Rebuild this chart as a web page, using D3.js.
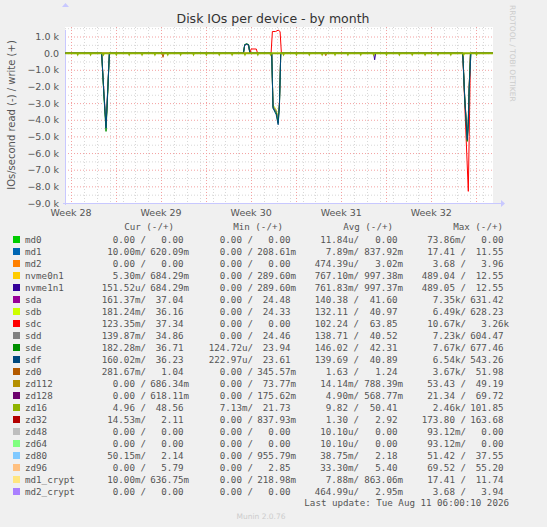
<!DOCTYPE html>
<html><head><meta charset="utf-8">
<script src="https://cdn.jsdelivr.net/npm/d3@7"></script>
<style>body{margin:0;background:#f0f0f0}svg{display:block}</style>
</head><body>
<script>
// devices, colours and legend figures (cur/min/avg/max as read / write)
var devices = ["md0","md1","md2","nvme0n1","nvme1n1","sda","sdb","sdc","sdd","sde","sdf","zd0","zd112","zd128","zd16","zd32","zd48","zd64","zd80","zd96","md1_crypt","md2_crypt"];
var colors = ["#00cc00","#0066b3","#ff8000","#ffcc00","#330099","#990099","#ccff00","#ff0000","#808080","#008f00","#00487d","#b35a00","#b38f00","#6b006b","#8fb300","#b30000","#bebebe","#80ff80","#80c9ff","#ffc080","#ffe680","#aa80ff"];
var curVals = [["0.00","0.00"],["10.00m","620.09m"],["0.00","0.00"],["5.30m","684.29m"],["151.52u","684.29m"],["161.37m","37.04"],["181.24m","36.16"],["123.35m","37.34"],["139.87m","34.86"],["182.28m","36.71"],["160.02m","36.23"],["281.67m","1.04"],["0.00","686.34m"],["0.00","618.11m"],["4.96","48.56"],["14.53m","2.11"],["0.00","0.00"],["0.00","0.00"],["50.15m","2.14"],["0.00","5.79"],["10.00m","636.75m"],["0.00","0.00"]];
var minVals = [["0.00","0.00"],["0.00","208.61m"],["0.00","0.00"],["0.00","289.60m"],["0.00","289.60m"],["0.00","24.48"],["0.00","24.33"],["0.00","0.00"],["0.00","24.46"],["124.72u","23.94"],["222.97u","23.61"],["0.00","345.57m"],["0.00","73.77m"],["0.00","175.62m"],["7.13m","21.73"],["0.00","837.93m"],["0.00","0.00"],["0.00","0.00"],["0.00","955.79m"],["0.00","2.85"],["0.00","218.98m"],["0.00","0.00"]];
var avgVals = [["11.84u","0.00"],["7.89m","837.92m"],["474.39u","3.02m"],["767.10m","997.38m"],["761.83m","997.37m"],["140.38","41.60"],["132.11","40.97"],["102.24","63.85"],["138.71","40.52"],["146.02","42.31"],["139.69","40.89"],["1.63","1.24"],["14.14m","788.39m"],["4.90m","568.77m"],["9.82","50.41"],["1.30","2.92"],["10.10u","0.00"],["10.10u","0.00"],["38.75m","2.18"],["33.30m","5.40"],["7.88m","863.06m"],["464.99u","2.95m"]];
var maxVals = [["73.86m","0.00"],["17.41","11.55"],["3.68","3.96"],["489.04","12.55"],["489.05","12.55"],["7.35k","631.42"],["6.49k","628.23"],["10.67k","3.26k"],["7.23k","604.47"],["7.67k","677.46"],["6.54k","543.26"],["3.67k","51.98"],["53.43","49.19"],["21.34","69.72"],["2.46k","101.85"],["173.80","163.68"],["93.12m","0.00"],["93.12m","0.00"],["51.42","37.55"],["69.52","55.20"],["17.41","11.74"],["3.68","3.94"]];

// plotted series: days since start of week 28, IOs/s (reads negative)
var days = [-0.45, 2.38, 2.55, 2.72, 2.85, 2.98, 13.4, 13.5, 13.65, 13.8, 13.9, 15.6, 15.7, 15.95, 16.1, 16.2, 16.3, 30.45, 30.6, 30.8, 30.88, 30.95, 31.05, 31.1, 32.8];
var sdaVals = [0, 0, -2300, -4300, -2200, 0, 0, 480, 520, 480, 0, 0, -3200, -3500, -4000, -3000, 0, 0, -2600, -5100, -4000, -2000, 0, 0, 0];
var sdbVals = [0, 0, -2400, -4400, -2300, 0, 0, 500, 540, 500, 0, 0, -3100, -3400, -3900, -3000, 0, 0, -2600, -5000, -4000, -2000, 0, 0, 0];
var sddVals = [0, 0, -2300, -4400, -2200, 0, 0, 480, 530, 480, 0, 0, -3200, -3500, -4000, -3000, 0, 0, -2600, -5100, -4100, -2000, 0, 0, 0];
var sdeVals = [0, 0, -2500, -4700, -2400, 0, 0, 520, 560, 520, 0, 0, -3300, -3600, -4200, -3100, 0, 0, -2700, -5300, -4200, -2000, 0, 0, 0];
var sdfVals = [0, 0, -2400, -4500, -2300, 0, 0, 500, 550, 500, 0, 0, -3300, -3700, -4300, -3200, 0, 0, -2700, -5200, -4300, -2100, -500, 0, 0];
var sdcDays = [-0.45, 13.9, 14.0, 14.4, 14.5, 15.55, 15.65, 15.9, 16.1, 16.25, 16.35, 30.45, 30.6, 30.88, 30.95, 31.05, 32.8];
var sdcVals = [0, 0, 250, 250, 0, 0, 1300, 1300, 1380, 1300, 0, 0, -3000, -8300, -5000, 0, 0];
var zd16Days = [0.52, 1.52, 2.52, 3.52, 4.52, 5.52, 6.52, 7.52, 8.52, 9.52, 10.52, 11.52, 12.52, 13.52, 14.52, 15.52, 16.52, 17.52, 18.52, 19.52, 20.52, 21.52, 22.52, 23.52, 24.52, 25.52, 26.52, 27.52, 28.52, 29.52, 30.52, 31.52];
var smallDays = [7.15, 19.8, 23.6];
var smallVals = [-250, -150, -400];
var smallDev = ["zd0", "zd0", "nvme1n1"];
var yTicks = [1000, 0, -1000, -2000, -3000, -4000, -5000, -6000, -7000, -8000, -9000];
var weekLabels = ["Week 28", "Week 29", "Week 30", "Week 31", "Week 32"];

var W = 547, H = 527;
var left = 65, right = 493, top0 = 27, bottom = 203;
var svg = d3.select("body").append("svg").attr("width", W).attr("height", H);
var col = function (n) { return colors[devices.indexOf(n)]; };

var x = d3.scaleLinear().domain([-0.47, 32.8]).range([left, right]);
var y = d3.scaleLinear().domain([-9000, 1000]).range([bottom, 36.5]);

svg.append("rect").attr("x", left).attr("y", top0).attr("width", right - left).attr("height", bottom - top0).attr("fill", "#fff");

// minor grid
var minorY = d3.range(-9000, 1600, 500);
svg.selectAll(".gy").data(minorY).enter().append("line")
    .attr("x1", left).attr("x2", right).attr("y1", function (d) { return y(d) + 0.5; }).attr("y2", function (d) { return y(d) + 0.5; })
    .attr("stroke", function (d) { return d % 1000 == 0 ? "#f4a0a0" : "#d8d8d8"; })
    .attr("stroke-dasharray", "1,2");
var minorX = d3.range(0, 33, 1);
svg.selectAll(".gx").data(minorX).enter().append("line")
    .attr("x1", function (d) { return Math.round(x(d)) + 0.5; }).attr("x2", function (d) { return Math.round(x(d)) + 0.5; })
    .attr("y1", top0).attr("y2", bottom)
    .attr("stroke", "#d8d8d8").attr("stroke-dasharray", "1,2");
var majorX = d3.range(0, 33, 3.5);
svg.selectAll(".mx").data(majorX).enter().append("line")
    .attr("x1", function (d) { return Math.round(x(d)) + 0.5; }).attr("x2", function (d) { return Math.round(x(d)) + 0.5; })
    .attr("y1", top0).attr("y2", bottom)
    .attr("stroke", "#f4a0a0").attr("stroke-dasharray", "1,2");

// axes
svg.append("line").attr("x1", left - 2).attr("x2", right + 8).attr("y1", bottom + 0.5).attr("y2", bottom + 0.5).attr("stroke", "#c8c8ff");
svg.append("line").attr("x1", left + 0.5).attr("x2", left + 0.5).attr("y1", bottom + 2).attr("y2", top0 - 22 + 25).attr("stroke", "#c8c8ff");
svg.append("path").attr("d", "M" + (right + 8) + "," + (bottom - 3) + "l4,3.5l-4,3.5z").attr("fill", "#c8c8ff");
svg.append("path").attr("d", "M" + (left - 3) + "," + (top0 - 20) + "l3.5,-4l3.5,4z").attr("fill", "#c8c8ff");

var tf = "DejaVu Sans, sans-serif";
svg.selectAll(".yt").data(yTicks).enter().append("text")
    .attr("x", 59).attr("y", function (d) { return y(d) + 3.5; }).attr("text-anchor", "end")
    .attr("font-family", tf).attr("font-size", 9.5).attr("fill", "#555")
    .text(function (d) { return d3.format(".1f")(d / 1000).replace("-0.0", "0.0") + (d == 0 ? "" : " k"); });
svg.selectAll(".xt").data(weekLabels).enter().append("text")
    .attr("x", function (d, i) { return x(i * 7); }).attr("y", 216).attr("text-anchor", "middle")
    .attr("font-family", tf).attr("font-size", 9.5).attr("fill", "#555").text(function (d) { return d; });

svg.append("text").attr("x", 273).attr("y", 23).attr("text-anchor", "middle")
    .attr("font-family", tf).attr("font-size", 12.5).attr("fill", "#333").text("Disk IOs per device - by month");
svg.append("text").attr("transform", "translate(15,115) rotate(-90)").attr("text-anchor", "middle")
    .attr("font-family", tf).attr("font-size", 10).attr("fill", "#555").text("IOs/second read (-) / write (+)");
svg.append("text").attr("transform", "translate(510,5) rotate(90)").attr("text-anchor", "start")
    .attr("font-family", tf).attr("font-size", 7.5).attr("fill", "#ccc").text("RRDTOOL / TOBI OETIKER");

// series
var line = d3.line().x(function (d) { return x(d[0]); }).y(function (d) { return y(d[1]); });
var g = svg.append("g");
function draw(ds, vs, name, w) {
    g.append("path").datum(ds.map(function (d, i) { return [d, vs[i]]; }))
        .attr("d", line).attr("fill", "none").attr("stroke", col(name)).attr("stroke-width", w || 1);
}
draw(days, sdbVals, "sdb");
draw(sdcDays, sdcVals, "sdc");
draw(days, sdaVals, "sda");
draw(days, sddVals, "sdd");
draw(days, sdeVals, "sde");
draw(days, sdfVals, "sdf");
smallDays.forEach(function (d, i) {
    draw([d - 0.08, d, d + 0.08], [0, smallVals[i], 0], smallDev[i]);
});
zd16Days.forEach(function (d) {
    draw([d - 0.06, d, d + 0.06], [0, -110, 0], "zd16", 1.2);
});
draw([-0.45, 32.8], [0, 0], "zd16", 2);

// legend
var mf = "DejaVu Sans Mono, monospace", fs = 9.2;
var heads = ["Cur (-/+)", "Min (-/+)", "Avg (-/+)", "Max (-/+)"];
var slashX = [146, 253, 359, 466], endX = [189, 296, 403, 509];
var headX = [174, 283, 393, 503];
heads.forEach(function (h, i) {
    svg.append("text").attr("x", headX[i]).attr("y", 230).attr("text-anchor", "end")
        .attr("font-family", mf).attr("font-size", fs).attr("fill", "#555").attr("xml:space", "preserve").text(h);
});
var tables = [curVals, minVals, avgVals, maxVals];
function pad(v) { return /[a-z]$/i.test(v) ? v : v + " "; }
var rows = svg.selectAll(".row").data(devices).enter().append("g")
    .attr("transform", function (d, i) { return "translate(0," + (239 + i * 12) + ")"; });
rows.append("rect").attr("x", 13).attr("y", -3).attr("width", 7).attr("height", 7).attr("fill", function (d, i) { return colors[i]; });
rows.append("text").attr("x", 25).attr("y", 3.5).attr("font-family", mf).attr("font-size", fs).attr("fill", "#555").text(function (d) { return d; });
tables.forEach(function (tab, c) {
    rows.append("text").attr("x", slashX[c]).attr("y", 3.5).attr("text-anchor", "end")
        .attr("font-family", mf).attr("font-size", fs).attr("fill", "#555").attr("xml:space", "preserve")
        .text(function (d, i) { return pad(tab[i][0]) + "/"; });
    rows.append("text").attr("x", endX[c]).attr("y", 3.5).attr("text-anchor", "end")
        .attr("font-family", mf).attr("font-size", fs).attr("fill", "#555").attr("xml:space", "preserve")
        .text(function (d, i) { return pad(tab[i][1]); });
});
svg.append("text").attr("x", 509).attr("y", 506).attr("text-anchor", "end")
    .attr("font-family", mf).attr("font-size", fs).attr("fill", "#555").text("Last update: Tue Aug 11 06:00:10 2026");
svg.append("text").attr("x", 261).attr("y", 519).attr("text-anchor", "middle")
    .attr("font-family", tf).attr("font-size", 7.5).attr("fill", "#ccc").text("Munin 2.0.76");
</script>
</body></html>
